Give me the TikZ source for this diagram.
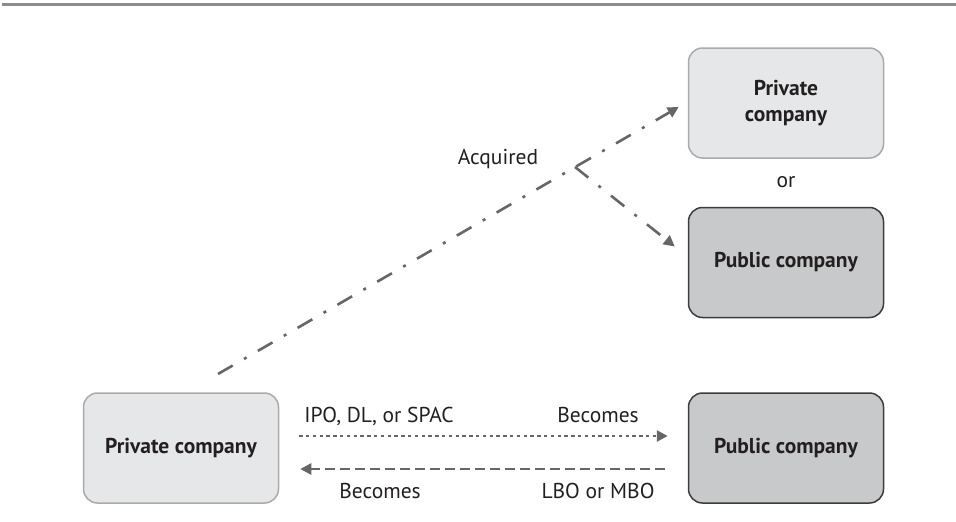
\documentclass[tikz,border=0pt]{standalone}
\usepackage{fontspec}
\setmainfont{PT Sans}
\usepackage{tikz}
\usetikzlibrary{arrows.meta,positioning}
\definecolor{boxlight}{HTML}{E6E7E8}
\definecolor{edgelight}{HTML}{AAAAAA}
\definecolor{boxdark}{HTML}{C8C9CB}
\definecolor{edgedark}{HTML}{3C3C3C}
\definecolor{flowgray}{HTML}{666666}
\definecolor{rulegray}{HTML}{8C8C8C}
\definecolor{inktext}{HTML}{231F20}
\tikzset{
	compbox/.style = {align=center, inner sep=0pt, rounded corners=14pt,
		minimum width=195pt, minimum height=110pt, line width=1.5pt,
		font=\fontsize{21.5}{26}\selectfont\bfseries, text=inktext},
	co_priv/.style = {compbox, fill=boxlight, draw=edgelight},% entreprise privee
	co_pub/.style = {compbox, fill=boxdark, draw=edgedark},% entreprise publique
	flowlbl/.style = {anchor=base, font=\fontsize{21.5}{24}\selectfont, text=inktext},
	flow/.style = {draw=flowgray, line width=2.6pt,
		-{Triangle[length=11pt,width=11pt]}},
	dashdot/.style = {dash pattern=on 17pt off 13pt on 3pt off 13pt}
}
\begin{document}
\begin{tikzpicture}[x=1pt,y=-1pt]
\useasboundingbox (0,0) rectangle (956,522);
\draw [rulegray, line width=3pt] (2,4.5) -- (956,4.5);
% boites
\node [co_priv] (priv_l) at (181,448) {Private company};
\node [co_pub] (pub_r) at (786,448) {Public company};
\node [co_priv] (priv_t) at (786,103) {Private\\company};
\node [co_pub, below = 48pt of priv_t.south, anchor=north] (pub_m) {Public company};
\node [flowlbl] (lbl_or) at (786,187) {or};
% fleches du bas
\draw [flow, dash pattern=on 3.4pt off 3.4pt, shorten <=20pt, shorten >=20pt]
	([yshift=12pt]priv_l.east) -- ([yshift=12pt]pub_r.west);
\draw [flow, dash pattern=on 10pt off 5pt, shorten <=23pt, shorten >=21pt]
	([yshift=-21pt]pub_r.west) -- ([yshift=-21pt]priv_l.east);
\node [flowlbl] (lbl_ipo) at (379,422) {IPO, DL, or SPAC};
\node [flowlbl] (lbl_becomes_r) at (598,422) {Becomes};
\node [flowlbl] (lbl_becomes_l) at (380,498) {Becomes};
\node [flowlbl] (lbl_lbo) at (598,498) {LBO or MBO};
% acquisition
\coordinate (acq_from) at (218,374);
\coordinate (acq_fork) at (575,167);
\draw [flow, dashdot] (acq_from) -- ([xshift=-9pt,yshift=-4pt]priv_t.west);
\draw [flow, dashdot] (acq_fork) -- ([xshift=-13pt,yshift=16pt]pub_m.west);
\node [flowlbl] (lbl_acq) at (498,164) {Acquired};
\end{tikzpicture}
\end{document}
